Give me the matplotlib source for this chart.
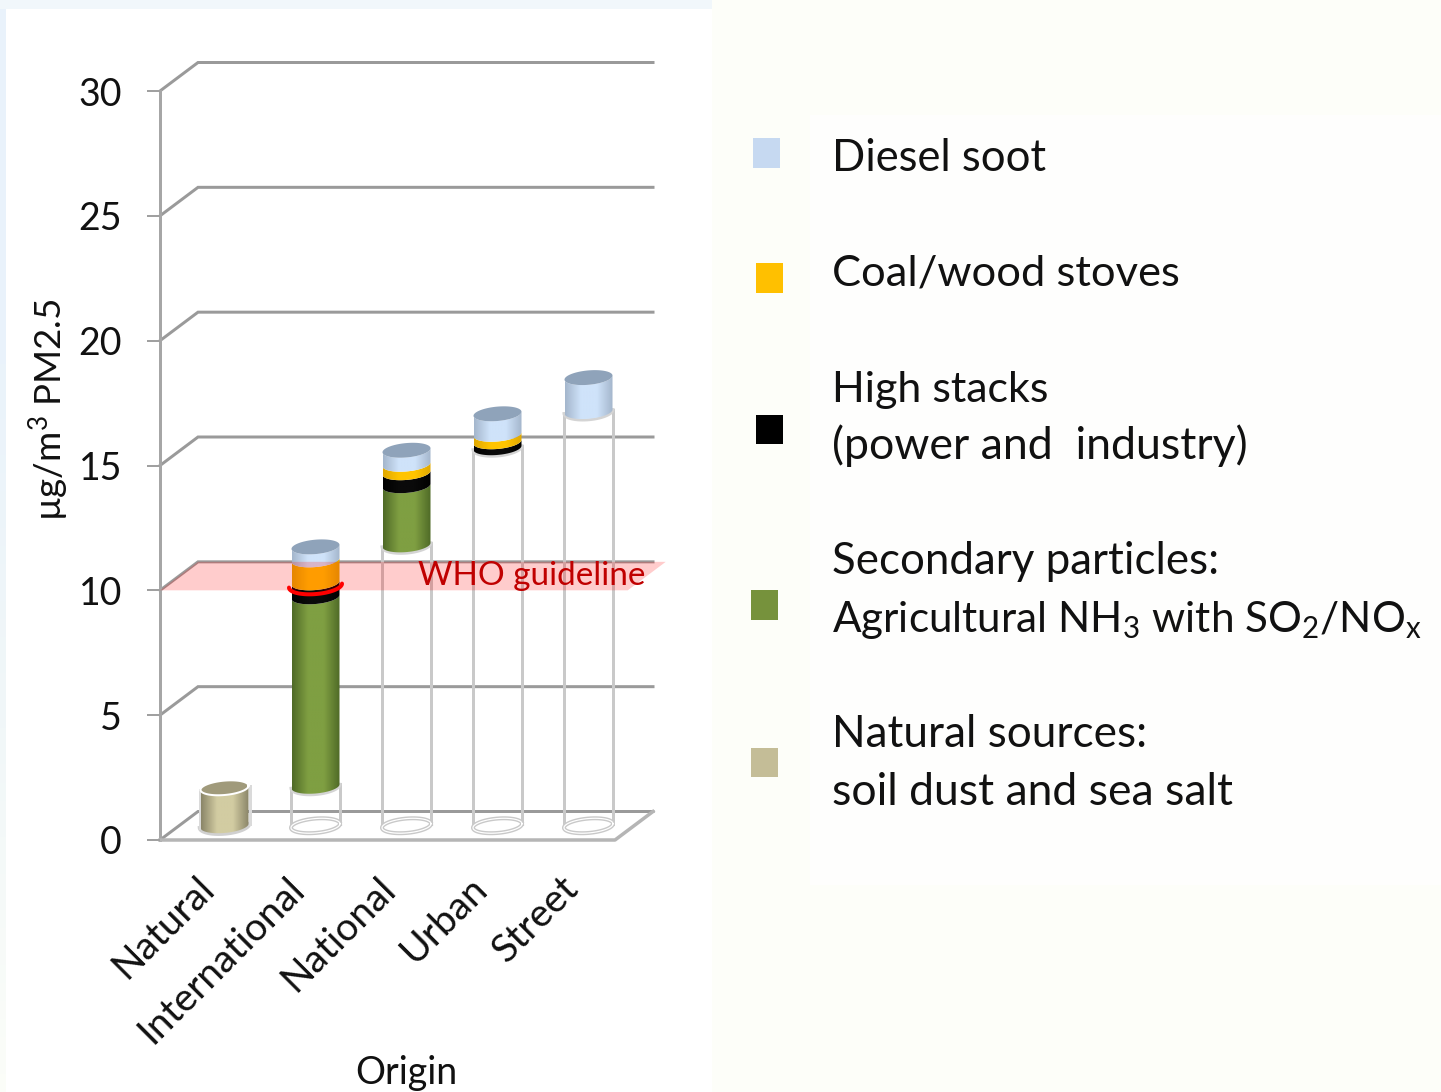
import numpy as np
import matplotlib
matplotlib.use("Agg")
import matplotlib.pyplot as plt
from matplotlib.colors import LinearSegmentedColormap
from matplotlib.patches import Polygon, Rectangle
from matplotlib.transforms import ScaledTranslation

plt.rcParams['font.family'] = ['Lato', 'DejaVu Sans']
plt.rcParams['mathtext.fontset'] = 'custom'
plt.rcParams['mathtext.rm'] = 'Lato'
plt.rcParams['mathtext.default'] = 'regular'

# ---- data ----
categories = ["Natural", "International", "National", "Urban", "Street"]
invisible = [0, 1.58, 11.25, 15.14, 16.59]
natural = [1.52, 0, 0, 0, 0]
secondary = [0, 7.59, 2.37, 0, 0]
high_stacks = [0, 0.56, 0.52, 0.24, 0]
coal_wood = [0, 0.92, 0.34, 0.30, 0]
diesel = [0, 0.52, 0.56, 0.82, 1.36]
who_guideline = 10
y_ticks = [0, 5, 10, 15, 20, 25, 30]

W, H = 1441, 1092
PX = 1 / 100 * 72          # points per pixel
fig = plt.figure(figsize=(W / 100, H / 100), dpi=100, facecolor="#fdfef9")

# ---- page background and legend (pixel coordinates) ----
bg = fig.add_axes([0, 0, 1, 1], zorder=0)
bg.set_xlim(0, W)
bg.set_ylim(H, 0)
bg.axis("off")
bg.imshow(np.linspace(0, 1, 60)[:, None],
          extent=[0, 6, H, 0], aspect="auto", cmap=LinearSegmentedColormap.from_list(
              "s", ["#e9f2fb", "#eaf3fb", "#f1f7f8", "#fbfdf8"]), origin="upper", vmin=0, vmax=1)
bg.add_patch(Rectangle((0, 0), 712, 9, color="#f1f7fb", lw=0))
bg.add_patch(Rectangle((6, 9), 706, H - 9, color="white", lw=0))
bg.add_patch(Rectangle((810, 115), 631, 770, color="#fefefd", lw=0))
bg.set_xlim(0, W)
bg.set_ylim(H, 0)

legend_boxes = [("#c6d9f1", 753, 138, 27, 30), ("#ffc000", 756, 263, 27, 30),
                ("#000000", 756, 415, 27, 29), ("#76923c", 751, 590, 27, 30),
                ("#c4bd97", 751, 748, 27, 29)]
for c, x, y, w, h in legend_boxes:
    bg.add_patch(Rectangle((x, y), w, h, color=c, lw=0))

legend_lines = [(171, "Diesel soot", 31.4), (286, "Coal/wood stoves", 31.3), (402, "High stacks", 31.0),
                (459, "(power and  industry)", 32.1), (574, "Secondary particles:", 31.6),
                (632, r"Agricultural NH$_3$ with SO$_2$/NO$_x$", 30.4),
                (747, "Natural sources:", 31.8), (805, "soil dust and sea salt", 32.0)]
for y, t, fs in legend_lines:
    bg.text(832, y, t, fontsize=fs, color="#111111", va="baseline", ha="left")

# ---- chart ----
ax = fig.add_axes([160 / W, (H - 840) / H, 455 / W, 749 / H], zorder=2)
ax.patch.set_visible(False)
ax.set_xlim(-0.5, 4.5)
ax.set_ylim(0, 30)
for s in ax.spines.values():
    s.set_visible(False)

px_x = 1 / 91
px_y = 30 / 749
DX, DY = 38 * px_x, 28.5 * px_y      # chart depth
BX, BY = DX / 2, DY / 2              # bars stand half way back
A = 24 * px_x                        # cylinder half width
B = 7.2 * px_y                       # ellipse half height
S = 2.0 * px_y                       # ellipse tilt
GRID = "#9a9a9a"
WIRE = "#c9c9c9"


def ell(i, v, t, a=A, b=B):
    x = i + BX + a * np.cos(t)
    y = v + BY + b * np.sin(t) + S * np.cos(t)
    return x, y


def wall(v):
    ax.plot([-0.5, -0.5 + DX, 4.5 + DX], [v, v + DY, v + DY], color=GRID,
            lw=3 * PX, clip_on=False, zorder=1, solid_joinstyle="miter")


for v in y_ticks:
    wall(v)
ax.plot([-0.5, -0.5], [0, 30], color="#a6a6a6", lw=3 * PX, clip_on=False, zorder=1.2)
ax.plot([-0.5, 4.5, 4.5 + DX], [0, 0, DY], color="#b5b5b5", lw=3.5 * PX, clip_on=False, zorder=1.2)


def cyl(i, v0, v1, edge, mid):
    cmap = LinearSegmentedColormap.from_list("c", [edge, mid, mid, edge])
    grad = np.linspace(0, 1, 128)[None, :]
    t0 = np.linspace(np.pi, 2 * np.pi, 50)
    x0, y0 = ell(i, v0, t0)
    x1, y1 = ell(i, v1, t0[::-1])
    poly = Polygon(np.c_[np.r_[x0, x1], np.r_[y0, y1]], closed=True, transform=ax.transData,
                   fc="none", ec="none")
    ax.add_patch(poly)
    im = ax.imshow(grad, extent=[i + BX - A, i + BX + A, v0 - 2, v1 + 2], aspect="auto",
                   cmap=cmap, zorder=3, clip_on=True, interpolation="bilinear")
    im.set_clip_path(poly)


def cap(i, v, color, ec=None):
    t = np.linspace(0, 2 * np.pi, 100)
    x, y = ell(i, v, t)
    ax.fill(x, y, color=color, lw=0, zorder=3.1, clip_on=False)
    if ec:
        ax.plot(x, y, color=ec, lw=2 * PX, zorder=3.2)


def wire(i, v):
    t = np.linspace(0, 2 * np.pi, 100)
    x, y = ell(i, 0, t, a=A + 0.5 * px_x)
    ax.plot(x, y, color=WIRE, lw=4 * PX, zorder=2)
    ax.plot(x, y, color="white", lw=1.2 * PX, zorder=2.1)
    for sgn in (-1, 1):
        ax.plot([i + BX + sgn * (A + 0.5 * px_x)] * 2,
                [BY + sgn * S, v + BY + sgn * S], color=WIRE, lw=3 * PX, zorder=2)
    tt = np.linspace(np.pi, 2 * np.pi, 50)
    x, y = ell(i, v, tt, a=A + 0.5 * px_x, b=B + 1 * px_y)
    ax.plot(x, y, color="#d4d4d4", lw=3 * PX, zorder=2)


stack = [(secondary, "#4f6a27", "#7f9f42"), (high_stacks, "#000000", "#0a0a0a"),
         (coal_wood, "#e0a800", "#ffc400"), (diesel, "#a4b6cc", "#cfe3fa")]
for i in range(len(categories)):
    base = invisible[i]
    if natural[i] > 0:
        t = np.linspace(np.pi, 2 * np.pi, 50)
        xb, yb = ell(i, 0, t, a=A + 1 * px_x, b=B + 1 * px_y)
        ax.plot(xb, yb, color="#d0d0d0", lw=3.5 * PX, zorder=2.5)
        for sgn in (-1, 1):
            ax.plot([i + BX + sgn * (A + 1 * px_x)] * 2, [BY + sgn * S, natural[i] + BY + sgn * S],
                    color="#dadada", lw=3 * PX, zorder=2.5)
        cyl(i, 0, natural[i], "#8a8568", "#d2cca2")
        cap(i, natural[i], "#a09a7b", ec="white")
        top = natural[i]
    else:
        wire(i, base)
        top = base
        for vals, edge, mid in stack:
            if vals[i] > 0:
                cyl(i, top, top + vals[i], edge, mid)
                top += vals[i]
        cap(i, top, "#8fa3ba")

# WHO guideline band: a plane through the chart depth
band_right = 4.64
ax.add_patch(Polygon([(-0.5, who_guideline), (-0.5 + DX, who_guideline + DY),
                      (band_right + DX, who_guideline + DY), (band_right, who_guideline)],
                     closed=True, fc="#ff0000", alpha=0.2, ec="none", zorder=4, clip_on=False))
ax.text(3.58, who_guideline + 0.57, "WHO guideline", color="#c00000", fontsize=24,
        ha="center", va="center", zorder=5, clip_on=False)

# red arc marking the guideline on the International column
t = np.linspace(np.pi, 2 * np.pi, 50)
x, y = ell(1, 9.62, t, a=26.5 * px_x, b=8.5 * px_y)
ax.plot(x, y, color="#ff0000", lw=4 * PX, zorder=6, solid_capstyle="round", clip_on=False)

ax.set_ylim(0, 30)
ax.set_xlim(-0.5, 4.5)
ax.set_yticks(y_ticks)
ax.tick_params(axis="y", length=13 * PX, width=2 * PX, color="#a0a0a0", pad=25 * PX,
               labelsize=27, labelcolor="#111111")
ax.set_xticks(range(len(categories)))
ax.set_xticklabels(categories, rotation=45, ha="right", rotation_mode="anchor", fontsize=28,
                   color="#111111")
ax.tick_params(axis="x", length=0, pad=30 * PX)
off = ScaledTranslation(-10 / 100, 0, fig.dpi_scale_trans)
for lab in ax.get_xticklabels():
    lab.set_transform(lab.get_transform() + off)

ax.set_ylabel(r"µg/m$^3$ PM2.5", fontsize=26.5, color="#111111")
ax.yaxis.set_label_coords((72 - 160) / 455, (840 - 410) / 749)
ax.set_xlabel("Origin", fontsize=27, color="#111111")
ax.xaxis.set_label_coords((406 - 160) / 455, -(1073 - 840) / 749)
ax.xaxis.label.set_va("center")

fig.savefig("out.png", dpi=100, facecolor=fig.get_facecolor())
